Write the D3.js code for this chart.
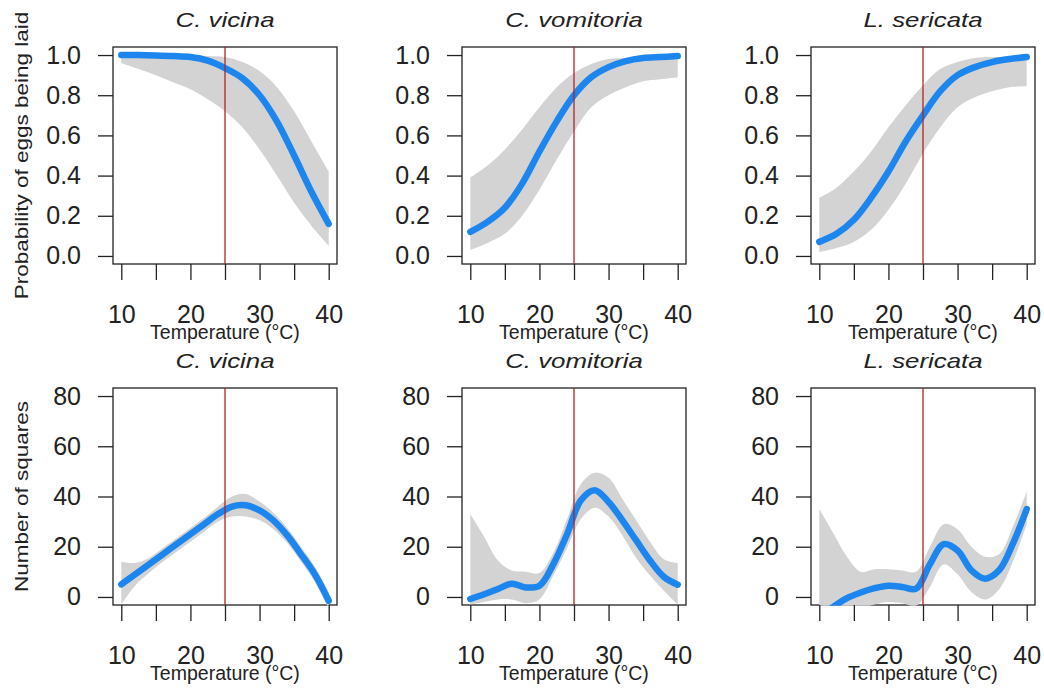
<!DOCTYPE html>
<meta charset="utf-8">
<style>
body { margin: 0; background: #fff; }
svg { font-family: "Liberation Sans", Arial, Helvetica, sans-serif; }
.tick line { stroke: #222; stroke-width: 1.3px; }
.tick text { fill: #222; font-size: 25px; }
.box { fill: none; stroke: #222; stroke-width: 1.3px; }
.band { fill: #d3d3d3; }
.fit { fill: none; stroke: #1c86ee; stroke-width: 6.5px; stroke-linecap: round; stroke-linejoin: round; }
.ref { stroke: #b22222; stroke-width: 1.3px; }
</style>
<body>
<script src="https://cdn.jsdelivr.net/npm/d3@7"></script>
<script>

// species shown in the three columns
var species = ["C. vicina", "C. vomitoria", "L. sericata"];

// top row: probability of eggs being laid (fitted value + ci band)
var probTemps = [10, 12.5, 15, 17.5, 20, 22.5, 25, 27.5, 30, 32.5, 35, 37.5, 40];
var vicinaProbFit = [1.0, 1.0, 0.998, 0.995, 0.99, 0.972, 0.935, 0.885, 0.80, 0.67, 0.50, 0.32, 0.16];
var vicinaProbLo  = [0.96, 0.93, 0.90, 0.865, 0.83, 0.78, 0.72, 0.64, 0.53, 0.40, 0.265, 0.15, 0.05];
var vicinaProbHi  = [1.0, 1.0, 1.0, 1.0, 1.0, 0.995, 0.99, 0.965, 0.92, 0.84, 0.72, 0.57, 0.42];
var vomitoriaProbFit = [0.12, 0.17, 0.24, 0.36, 0.52, 0.67, 0.80, 0.89, 0.94, 0.97, 0.985, 0.99, 0.995];
var vomitoriaProbLo  = [0.03, 0.065, 0.11, 0.20, 0.33, 0.48, 0.62, 0.74, 0.80, 0.84, 0.87, 0.88, 0.89];
var vomitoriaProbHi  = [0.39, 0.45, 0.53, 0.63, 0.74, 0.84, 0.91, 0.955, 0.98, 0.985, 0.99, 0.995, 0.995];
var sericataProbFit = [0.07, 0.11, 0.18, 0.29, 0.42, 0.57, 0.70, 0.82, 0.90, 0.94, 0.965, 0.98, 0.99];
var sericataProbLo  = [0.02, 0.04, 0.07, 0.13, 0.23, 0.36, 0.51, 0.64, 0.74, 0.79, 0.82, 0.84, 0.845];
var sericataProbHi  = [0.29, 0.34, 0.42, 0.52, 0.64, 0.75, 0.85, 0.93, 0.965, 0.985, 0.99, 0.99, 0.99];

// bottom row: number of squares
var countTemps = [10, 12, 14, 16, 18, 20, 22, 24, 26, 28, 30, 32, 34, 36, 38, 40];
var vicinaCountFit = [5, 9, 13, 17, 21, 25, 29, 33, 36, 36.5, 34.5, 30.5, 24.5, 17, 9, -1.5];
var vicinaCountLo  = [-3, 4.5, 9.5, 14, 18, 22, 26, 30, 32, 32, 30.5, 27, 21.5, 14, 6, -4.5];
var vicinaCountHi  = [14, 13.5, 15.5, 19.5, 23.5, 27.5, 31.5, 36, 40, 41, 38, 33.5, 27.5, 20, 12, 2];
var vomitoriaCountFit = [-0.8, 1.1, 3.2, 5.3, 3.8, 4.5, 13, 25, 38.5, 42.5, 37.8, 30.5, 22.5, 14.5, 8, 4.9];
var vomitoriaCountLo  = [-3, -2, -1, -1, -2.5, -1, 8.5, 19.5, 31, 35.5, 32, 24.5, 15.5, 8.5, 2.5, -3];
var vomitoriaCountHi  = [33, 24, 14.5, 10.5, 10, 9.5, 17.5, 31, 45, 49.5, 47.5, 39, 30.5, 22, 15, 13.5];
var sericataCountFit = [-8, -4, -0.5, 1.8, 3.5, 4.5, 4, 3.3, 13, 21, 18.5, 10.6, 7.3, 10.6, 21.2, 35];
var sericataCountLo  = [-25, -18, -10, -5, -3, -2, -2.5, -3.5, 4, 13, 9, 2, -1, 3, 14, 29];
var sericataCountHi  = [35, 25.5, 16, 10, 11, 11, 10.5, 10, 20, 29, 27, 20, 16, 17, 28, 42];

// axes
var xTicks = [10, 15, 20, 25, 30, 35, 40];
var xTickLabels = {10: "10", 20: "20", 30: "30", 40: "40"};
var probTicks = [0, 0.2, 0.4, 0.6, 0.8, 1.0];
var countTicks = [0, 20, 40, 60, 80];
var refTemp = 25;   // vertical reference line
var xLabel = "Temperature (\u00B0C)";
var rowLabels = ["Probability of eggs being laid", "Number of squares"];

var width = 1044, height = 690;
var colLeft = [113, 462, 811], boxW = 224;
var rowTop = [47, 388], boxH = 217;

var rows = [
  {temps: probTemps, ydom: [-0.04, 1.04], ticks: probTicks, fmt: d3.format(".1f"),
   series: [[vicinaProbFit, vicinaProbLo, vicinaProbHi],
            [vomitoriaProbFit, vomitoriaProbLo, vomitoriaProbHi],
            [sericataProbFit, sericataProbLo, sericataProbHi]]},
  {temps: countTemps, ydom: [-3.2, 83.2], ticks: countTicks, fmt: d3.format("d"),
   series: [[vicinaCountFit, vicinaCountLo, vicinaCountHi],
            [vomitoriaCountFit, vomitoriaCountLo, vomitoriaCountHi],
            [sericataCountFit, sericataCountLo, sericataCountHi]]}
];

var curve = d3.curveCatmullRom.alpha(0.5);

var svg = d3.select("body").append("svg")
    .attr("width", width)
    .attr("height", height);

rows.forEach(function(row, r) {
  var top = rowTop[r];

  // y axis title, a bit wider than the base font
  svg.append("text")
      .attr("transform", "translate(28," + (top + boxH / 2) + ")rotate(-90)scale(1.25,1)")
      .attr("text-anchor", "middle")
      .style("font-size", "18px")
      .style("fill", "#222")
      .text(rowLabels[r]);

  species.forEach(function(name, c) {
    var left = colLeft[c];
    var x = d3.scaleLinear().domain([8.8, 41.2]).range([left, left + boxW]);
    var y = d3.scaleLinear().domain(row.ydom).range([top + boxH, top]);
    var s = row.series[c];
    var pts = row.temps.map(function(t, i) { return {t: t, fit: s[0][i], lo: s[1][i], hi: s[2][i]}; });

    var clipId = "clip" + r + c;
    svg.append("clipPath").attr("id", clipId)
      .append("rect")
        .attr("x", left).attr("y", top)
        .attr("width", boxW).attr("height", boxH + 0.7);

    svg.append("rect")
        .attr("class", "box")
        .attr("x", left).attr("y", top)
        .attr("width", boxW).attr("height", boxH);

    var g = svg.append("g").attr("clip-path", "url(#" + clipId + ")");

    g.append("path")
        .datum(pts)
        .attr("class", "band")
        .attr("d", d3.area()
          .curve(curve)
          .x(function(d) { return x(d.t); })
          .y0(function(d) { return y(d.lo); })
          .y1(function(d) { return y(d.hi); }));

    g.append("path")
        .datum(pts)
        .attr("class", "fit")
        .attr("d", d3.line()
          .curve(curve)
          .x(function(d) { return x(d.t); })
          .y(function(d) { return y(d.fit); }));

    svg.append("line")
        .attr("class", "ref")
        .attr("x1", x(refTemp)).attr("x2", x(refTemp))
        .attr("y1", top).attr("y2", top + boxH);

    var xAxis = svg.append("g")
        .attr("transform", "translate(0," + (top + boxH) + ")")
        .call(d3.axisBottom(x)
          .tickValues(xTicks)
          .tickSize(16)
          .tickPadding(25)
          .tickFormat(function(d) { return xTickLabels[d] || ""; }));
    xAxis.select(".domain").remove();

    var yAxis = svg.append("g")
        .attr("transform", "translate(" + left + ",0)")
        .call(d3.axisLeft(y)
          .tickValues(row.ticks)
          .tickSize(15)
          .tickPadding(17)
          .tickFormat(row.fmt));
    yAxis.select(".domain").remove();

    svg.append("text")
        .attr("x", left + boxW / 2)
        .attr("y", top + boxH + 75)
        .attr("text-anchor", "middle")
        .style("font-size", "19.5px")
        .style("fill", "#222")
        .text(xLabel);

    svg.append("text")
        .attr("transform", "translate(" + (left + boxW / 2) + "," + (top - 20) + ")scale(1.23,1)")
        .attr("text-anchor", "middle")
        .style("font-size", "21px")
        .style("font-style", "italic")
        .style("fill", "#222")
        .text(name);
  });
});

</script>
